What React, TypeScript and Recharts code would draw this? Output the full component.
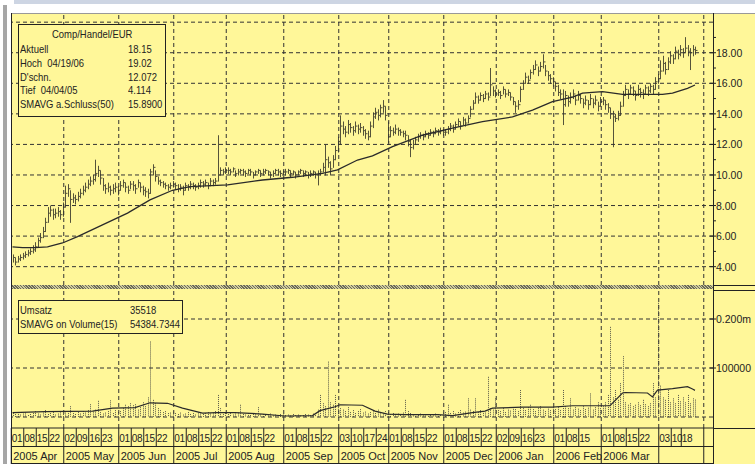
import { ComposedChart, Bar, Line, XAxis, YAxis, ReferenceLine } from 'recharts'

const YELLOW = '#FFF799'
const INK = '#222'
const FONT = '"Liberation Sans", Arial, sans-serif'

// trading-day index where each month starts (last one = 2006 May, outside the data)
const monthStarts = [0, 21, 43, 65, 86, 109, 131, 151, 173, 194, 217, 236, 259, 277]
const monthLabels = ['2005 Apr', '2005 May', '2005 Jun', '2005 Jul', '2005 Aug', '2005 Sep', '2005 Oct', '2005 Nov', '2005 Dec', '2006 Jan', '2006 Feb', '2006 Mar', '', '']

const weekIdx = [0, 5, 10, 15, 21, 26, 31, 36, 43, 48, 53, 58, 65, 70, 75, 80, 86, 91, 96, 101, 109, 114, 119, 124, 131, 136, 141, 146, 151, 156, 161, 166, 173, 178, 183, 188, 194, 199, 204, 209, 217, 222, 227, 236, 241, 246, 251, 259, 264, 268]
const weekLabels = ['01', '08', '15', '22', '02', '09', '16', '23', '01', '08', '15', '22', '01', '08', '15', '22', '01', '08', '15', '22', '01', '08', '15', '22', '03', '10', '17', '24', '01', '08', '15', '22', '01', '08', '15', '22', '02', '09', '16', '23', '01', '08', '15', '01', '08', '15', '22', '03', '10', '18']

const closes = [
  4.6, 4.3, 4.5, 4.6, 4.7, 4.8, 4.9, 5.0, 5.1, 5.3, 5.7, 5.9, 6.3, 6.9, 7.5, 7.7, 7.4, 7.5, 7.6, 7.4, 7.9,
  8.8, 9.1, 8.4, 8.5, 8.4, 8.6, 8.8, 9.0, 9.2, 9.4, 9.6, 9.7, 10.1, 10.3, 9.8, 9.3, 9.1, 9.2, 9.0, 9.1, 9.2, 9.0,
  9.3, 9.5, 9.2, 9.0, 9.4, 9.3, 9.1, 9.5, 9.2, 9.0, 8.9, 8.8, 10.2, 10.5, 9.9, 9.6, 9.5, 9.4, 9.3, 9.2, 9.3, 9.4,
  9.3, 9.1, 9.2, 9.0, 9.3, 9.2, 9.4, 9.3, 9.2, 9.3, 9.5, 9.4, 9.5, 9.3, 9.6, 9.5, 9.6, 10.0, 10.3, 10.2, 10.3,
  10.3, 10.2, 10.4, 10.1, 10.2, 10.3, 10.2, 10.1, 10.3, 10.2, 10.0, 10.2, 10.3, 10.1, 10.2, 10.3, 10.2, 10.0, 10.1, 10.3, 10.2, 10.1, 10.2,
  10.2, 10.3, 10.1, 10.2, 10.0, 10.2, 10.3, 10.1, 10.2, 10.0, 10.1, 10.2, 10.0, 10.1, 10.2, 10.5, 11.0, 10.8, 10.4, 11.0, 11.6, 12.2,
  13.2, 13.0, 12.8, 13.3, 13.1, 12.9, 13.2, 13.0, 13.1, 12.9, 12.7, 12.5, 13.2, 13.8, 14.1, 13.9, 14.4, 14.5, 13.9, 12.5,
  12.9, 12.8, 13.0, 12.9, 12.8, 12.7, 12.6, 12.2, 11.8, 12.0, 12.3, 12.5, 12.6, 12.5, 12.7, 12.6, 12.8, 12.7, 12.9, 12.8, 12.9, 12.8,
  12.8, 13.0, 13.2, 13.0, 13.3, 13.5, 13.2, 13.6, 13.4, 13.7, 14.3, 14.7, 15.1, 14.9, 15.2, 15.0, 15.3, 15.1, 15.9, 15.5, 15.3,
  15.4, 15.2, 15.6, 15.3, 15.4, 15.1, 14.8, 14.5, 14.6, 15.6, 16.0, 16.4, 16.2, 16.7, 16.9, 17.2, 16.8, 17.1, 17.4, 16.8, 16.5, 16.3, 16.1,
  15.8, 15.4, 15.3, 14.6, 15.2, 14.8, 15.1, 15.3, 14.9, 15.2, 15.0, 14.7, 14.9, 14.6, 15.0, 14.7, 14.9, 14.5, 14.8,
  14.9, 14.6, 14.4, 14.0, 13.8, 13.7, 13.9, 14.5, 15.2, 15.6, 15.3, 15.7, 15.5, 15.2, 15.6, 15.4, 15.3, 15.7, 15.5, 15.8, 15.6, 16.1, 16.3,
  16.8, 17.3, 16.9, 17.4, 17.8, 17.6, 18.1, 17.9, 18.2, 18.0, 18.3, 18.1, 18.0, 18.2, 18.15,
]

const highs = [
  4.8, 4.6, 4.7, 4.8, 4.9, 5.0, 5.1, 5.2, 5.4, 5.6, 5.9, 6.2, 6.6, 7.2, 7.9, 8.0, 7.8, 7.8, 7.9, 7.7, 8.2,
  9.3, 9.4, 9.0, 8.8, 8.7, 8.9, 9.1, 9.3, 9.5, 9.7, 9.9, 10.0, 11.0, 10.6, 10.3, 9.8, 9.4, 9.5, 9.3, 9.4, 9.5, 9.3,
  9.6, 9.7, 9.5, 9.3, 9.6, 9.6, 9.4, 9.7, 9.5, 9.3, 9.2, 9.1, 10.4, 10.7, 10.3, 9.9, 9.7, 9.6, 9.5, 9.4, 9.5, 9.6,
  9.5, 9.4, 9.4, 9.3, 9.5, 9.4, 9.6, 9.5, 9.4, 9.5, 9.7, 9.6, 9.7, 9.5, 9.8, 9.7, 9.8, 12.6, 10.5, 10.4, 10.5,
  10.5, 10.4, 10.5, 10.3, 10.4, 10.4, 10.4, 10.3, 10.4, 10.4, 10.2, 10.3, 10.4, 10.3, 10.4, 10.4, 10.3, 10.2, 10.3, 10.4, 10.4, 10.3, 10.3,
  10.4, 10.4, 10.3, 10.3, 10.2, 10.3, 10.4, 10.3, 10.3, 10.2, 10.3, 10.3, 10.2, 10.3, 10.4, 10.8, 12.0, 11.2, 10.9, 11.3, 11.9, 12.5,
  13.9, 13.5, 13.2, 13.6, 13.4, 13.2, 13.5, 13.3, 13.4, 13.2, 13.0, 12.9, 13.5, 14.1, 14.4, 14.3, 14.6, 14.9, 14.5, 13.5,
  13.2, 13.1, 13.3, 13.1, 13.0, 12.9, 12.9, 12.6, 12.3, 12.3, 12.5, 12.7, 12.8, 12.7, 12.9, 12.8, 13.0, 12.9, 13.1, 13.0, 13.1, 13.0,
  13.0, 13.2, 13.4, 13.3, 13.5, 13.7, 13.5, 13.8, 13.7, 13.9, 14.5, 14.9, 15.4, 15.2, 15.4, 15.3, 15.5, 15.4, 17.0, 15.8, 15.6,
  15.6, 15.5, 15.8, 15.6, 15.6, 15.4, 15.1, 14.8, 14.9, 15.8, 16.2, 16.7, 16.5, 16.9, 17.2, 17.5, 17.1, 17.4, 17.9, 17.2, 16.8, 16.6, 16.4,
  16.1, 15.9, 15.6, 15.6, 15.5, 15.2, 15.4, 15.6, 15.2, 15.5, 15.3, 15.0, 15.2, 14.9, 15.3, 15.0, 15.2, 14.8, 15.1,
  15.1, 14.9, 14.7, 14.4, 14.2, 14.0, 14.2, 14.8, 15.5, 15.9, 15.6, 15.9, 15.8, 15.5, 15.9, 15.7, 15.6, 15.9, 15.8, 16.0, 15.9, 16.4, 16.6,
  17.5, 17.8, 17.4, 17.7, 18.1, 17.9, 18.4, 18.2, 18.5, 18.3, 19.02, 18.5, 18.3, 18.5, 18.4,
]

const lows = [
  4.3, 4.114, 4.3, 4.4, 4.5, 4.6, 4.7, 4.8, 4.9, 5.0, 5.3, 5.6, 5.9, 6.3, 6.9, 7.3, 7.1, 7.2, 7.3, 7.1, 7.3,
  7.9, 8.6, 6.9, 8.2, 8.1, 8.3, 8.5, 8.7, 8.9, 9.1, 9.3, 9.4, 9.6, 9.9, 9.4, 9.0, 8.8, 8.9, 8.7, 8.8, 8.9, 8.7,
  9.0, 9.2, 8.9, 8.8, 9.1, 9.0, 8.8, 9.2, 8.9, 8.7, 8.6, 8.5, 8.8, 10.0, 9.6, 9.4, 9.3, 9.2, 9.1, 9.0, 9.1, 9.2,
  9.1, 8.9, 9.0, 8.7, 9.0, 9.0, 9.1, 9.1, 9.0, 9.1, 9.2, 9.2, 9.3, 9.1, 9.3, 9.3, 9.4, 9.6, 10.0, 10.0, 10.1,
  10.1, 10.0, 10.2, 9.9, 10.0, 10.1, 10.0, 9.9, 10.1, 10.0, 9.8, 10.0, 10.1, 9.9, 10.0, 10.1, 10.0, 9.8, 9.9, 10.1, 10.0, 9.9, 10.0,
  10.0, 10.1, 9.9, 10.0, 9.8, 10.0, 10.1, 9.9, 10.0, 9.8, 9.9, 10.0, 9.8, 9.35, 10.0, 10.2, 10.0, 10.5, 10.0, 10.5, 11.0, 11.5,
  12.0, 12.7, 12.5, 12.7, 12.8, 12.6, 12.8, 12.7, 12.8, 12.6, 12.4, 12.3, 12.5, 13.1, 13.7, 13.6, 13.8, 14.1, 13.6, 12.1,
  12.5, 12.6, 12.7, 12.6, 12.6, 12.5, 12.3, 11.9, 11.2, 11.7, 12.0, 12.2, 12.4, 12.3, 12.5, 12.4, 12.6, 12.5, 12.7, 12.6, 12.7, 12.6,
  12.6, 12.7, 12.9, 12.8, 13.0, 13.2, 13.0, 13.3, 13.2, 13.4, 13.8, 14.3, 14.7, 14.7, 14.9, 14.8, 15.0, 14.9, 15.2, 15.2, 15.1,
  15.2, 15.0, 15.3, 15.1, 15.2, 14.9, 14.6, 14.1, 14.3, 14.8, 15.6, 16.0, 16.0, 16.3, 16.6, 16.9, 16.5, 16.8, 17.0, 16.5, 16.2, 16.0, 15.8,
  15.5, 15.2, 15.0, 13.3, 14.5, 14.5, 14.7, 15.0, 14.6, 14.9, 14.7, 14.4, 14.6, 14.3, 14.6, 14.4, 14.6, 14.2, 14.5,
  14.6, 14.3, 14.1, 13.7, 11.85, 13.5, 13.6, 13.9, 14.5, 15.2, 15.0, 15.3, 15.2, 14.9, 15.2, 15.1, 15.0, 15.3, 15.2, 15.4, 15.3, 15.6, 16.0,
  16.3, 16.8, 16.6, 16.9, 17.3, 17.3, 17.6, 17.6, 17.8, 17.7, 18.0, 17.8, 16.9, 17.8, 17.9,
]

// SMAVG a.Schluss(50)
const smaIdx = [0, 4, 9, 14, 20, 26, 36, 46, 55, 64, 71, 86, 100, 112, 124, 130, 138, 144, 152, 164, 176, 188, 200, 208, 216, 224, 228, 236, 244, 260, 264, 270, 273]
const smaVal = [5.3, 5.25, 5.25, 5.3, 5.55, 5.97, 6.73, 7.5, 8.37, 9.0, 9.24, 9.35, 9.67, 9.85, 10.11, 10.33, 10.98, 11.25, 11.85, 12.6, 13.07, 13.49, 13.8, 14.25, 14.8, 15.1, 15.35, 15.45, 15.28, 15.28, 15.35, 15.67, 15.89]

// Umsatz in thousands
const volumeK = [
  8, 6, 10, 5, 7, 9, 4, 6, 8, 12, 7, 5, 9, 14, 6, 8, 10, 5, 7, 11, 6,
  9, 12, 22, 8, 6, 10, 7, 12, 9, 14, 26, 11, 15, 33, 10, 7, 9, 12, 34, 8, 14, 10,
  12, 18, 25, 22, 28, 24, 26, 15, 20, 30, 22, 40, 154, 35, 28, 18, 14, 10, 12, 8, 9, 11,
  8, 6, 9, 5, 7, 10, 6, 8, 5, 9, 7, 6, 8, 10, 7, 9, 12, 45, 18, 10, 8,
  6, 8, 5, 7, 9, 25, 6, 5, 8, 4, 6, 7, 20, 5, 6, 4, 5, 7, 3, 5, 4, 6, 5,
  4, 5, 3, 6, 4, 5, 3, 4, 6, 5, 4, 7, 8, 15, 45, 28, 22, 113, 30, 25, 45, 20,
  18, 15, 12, 20, 10, 14, 8, 12, 16, 9, 11, 7, 10, 13, 8, 15, 9, 7, 12, 10,
  6, 8, 5, 7, 4, 9, 35, 12, 8, 5, 6, 4, 7, 5, 3, 6, 4, 5, 7, 6, 4, 9,
  10, 25, 8, 12, 7, 10, 14, 9, 11, 38, 15, 12, 38, 10, 14, 12, 9, 82, 18, 15, 38,
  14, 12, 18, 10, 15, 13, 20, 16, 12, 55, 18, 14, 20, 25, 16, 12, 18, 22, 15, 12, 17, 14, 20,
  16, 20, 14, 55, 22, 18, 38, 15, 20, 17, 14, 22, 16, 19, 48, 15, 20, 30, 18,
  22, 30, 45, 184, 40, 55, 35, 69, 124, 30, 25, 28, 22, 25, 30, 24, 35, 26, 22, 28, 69, 40, 233,
  64, 40, 35, 55, 30, 38, 28, 45, 32, 40, 30, 45, 28, 38, 35.518,
]

// SMAVG on Volume(15), thousands
const volSmaIdx = [0, 13, 32, 40, 49, 55, 62, 68, 76, 82, 89, 100, 109, 120, 123, 129, 131, 140, 145, 150, 157, 170, 176, 184, 189, 192, 204, 216, 224, 236, 239, 244, 245, 254, 256, 258, 264, 270, 272, 273]
const volSmaK = [9, 11, 12, 18, 19, 29, 28, 18, 8, 9, 9, 6, 2, 3, 13, 21, 25, 24, 12, 6, 5, 5, 3, 9, 12, 18, 20, 20, 23, 23, 23, 49, 50, 49, 41, 55, 58, 62, 57, 54.4]

const priceLabelTicks = [4, 6, 8, 10, 12, 14, 16, 18]
const priceMinorTicks = [5, 7, 9, 11, 13, 15, 17, 19]
const priceGrid = [4, 6, 8, 10, 12, 14, 16, 18, 20]
const volTicks = [100, 200]
const volTickLabels = ['100000', '0.200m']
const volGrid = [0, 100, 200]

const priceLegendLabels = ['Aktuell', 'Hoch  04/19/06', "D'schn.", 'Tief  04/04/05', 'SMAVG a.Schluss(50)']
const priceLegendValues = ['18.15', '19.02', '12.072', '4.114', '15.8900']
const volLegendLabels = ['Umsatz', 'SMAVG on Volume(15)']
const volLegendValues = ['35518', '54384.7344']

const bars = closes.map((c, i) => ({ i, hl: [lows[i], highs[i]], close: c, vol: volumeK[i] }))
const smaPts = smaIdx.map((i, k) => ({ i, v: smaVal[k] }))
const volSmaPts = volSmaIdx.map((i, k) => ({ i, v: volSmaK[k] }))
const dateTicks = Array.from(new Set([...monthStarts, ...weekIdx])).sort((a, b) => a - b).map((v) => v - 0.5)

const X_DOMAIN: [number, number] = [-0.6, 280.2]
const GRID = { stroke: '#333', strokeDasharray: '4 3', strokeWidth: 1 }

function OhlcShape(props: any) {
  const { x, y, width, height, payload } = props
  const cx = Math.round(x + width / 2) + 0.5
  const top = Math.min(y, y + height)
  const bot = Math.max(y, y + height)
  const [lo, hi] = payload.hl
  const yc = top + ((bot - top) * (hi - payload.close)) / (hi - lo || 1)
  return (
    <g stroke="#55533a" strokeWidth={1}>
      <line x1={cx} x2={cx} y1={top} y2={bot + 0.5} />
      <line x1={cx} x2={cx + 2} y1={yc} y2={yc} />
    </g>
  )
}

function VolShape(props: any) {
  const { x, y, width, height } = props
  const cx = Math.round(x + width / 2) + 0.5
  const top = Math.min(y, y + height)
  const bot = Math.max(y, y + height)
  return <line x1={cx} x2={cx} y1={top} y2={bot} stroke="#5a5a4a" strokeDasharray="1 1" />
}

function PriceTick(props: any) {
  const { x, y, payload } = props
  const v = payload.value
  const k = priceLabelTicks.indexOf(v)
  return (
    <g>
      <line x1={k >= 0 ? x - 3 : x} x2={x + 3} y1={y} y2={y} stroke={INK} />
      {k >= 0 && (
        <text x={x + 3} y={y + 4} fontSize={10.5} fill={INK} fontFamily={FONT}>
          {v.toFixed(2)}
        </text>
      )}
    </g>
  )
}

function VolTick(props: any) {
  const { x, y, payload } = props
  const k = volTicks.indexOf(payload.value)
  return (
    <g>
      <line x1={x - 3} x2={x + 3} y1={y} y2={y} stroke={INK} />
      <text x={x + 3} y={y + 4} fontSize={10.5} fill={INK} fontFamily={FONT}>
        {volTickLabels[k]}
      </text>
    </g>
  )
}

function DateTick(props: any) {
  const { x, y, payload } = props
  const idx = payload.value + 0.5
  const m = monthStarts.indexOf(idx)
  const w = weekIdx.indexOf(idx)
  return (
    <g fontFamily={FONT} fill={INK}>
      <line x1={x} x2={x} y1={y} y2={y + (m >= 0 ? 36 : 18)} stroke={INK} />
      {w >= 0 && (
        <text x={x + 0.5} y={y + 14} fontSize={10} letterSpacing={-0.4}>
          {weekLabels[w]}
        </text>
      )}
      {m >= 0 && monthLabels[m] && (
        <text x={x + 2} y={y + 32} fontSize={11}>
          {monthLabels[m]}
        </text>
      )}
    </g>
  )
}

const abs = (left: number, top: number, width: number, height: number, background: string): React.CSSProperties => ({
  position: 'absolute', left, top, width, height, background,
})

const txt: React.CSSProperties = {
  position: 'absolute', fontSize: 10.5, lineHeight: '14px', whiteSpace: 'pre', color: INK,
  transform: 'scaleX(0.9)', transformOrigin: 'left center',
}

export default function App() {
  return (
    <div style={{ position: 'absolute', left: 0, top: 0, width: 755, height: 464, background: YELLOW, overflow: 'hidden', fontFamily: FONT }}>
      <div style={abs(0, 0, 755, 13, '#fff')} />
      <div style={abs(14, 0, 741, 4, '#cdd5e3')} />
      <div style={abs(0, 0, 11, 464, '#fff')} />
      <div style={abs(3, 5, 4, 459, '#a6a6a6')} />
      <div style={abs(11, 13, 744, 1, '#999')} />
      <div style={{ ...abs(12, 285, 701, 4, ''), background: 'repeating-linear-gradient(45deg, #6a6a58 0 1px, #cfcb9c 1px 2px)' }} />
      <div style={abs(713, 285, 42, 1, INK)} />
      <div style={abs(713, 290, 42, 1, INK)} />
      <div style={abs(713, 428, 42, 1, INK)} />
      <div style={abs(11, 446, 702, 1, INK)} />
      <div style={abs(11, 463, 702, 1, INK)} />

      <div style={{ position: 'absolute', left: 0, top: 0 }}>
        <ComposedChart width={755} height={285} data={bars} margin={{ top: 13, right: 0, bottom: 0, left: 11 }}>
          <XAxis type="number" dataKey="i" domain={X_DOMAIN} allowDataOverflow hide />
          <YAxis
            orientation="right"
            width={42}
            type="number"
            domain={[2.8, 20.6]}
            allowDataOverflow
            ticks={[...priceLabelTicks, ...priceMinorTicks]}
            interval={0}
            axisLine={false}
            tickLine={false}
            tickSize={0}
            tickMargin={0}
            tick={(p: any) => <PriceTick {...p} />}
          />
          {priceGrid.map((v) => (
            <ReferenceLine key={'h' + v} y={v} {...GRID} />
          ))}
          {monthStarts.slice(1).map((m) => (
            <ReferenceLine key={'v' + m} x={m - 0.5} {...GRID} />
          ))}
          <Bar dataKey="hl" isAnimationActive={false} shape={(p: any) => <OhlcShape {...p} />} />
          <Line data={smaPts} dataKey="v" type="linear" stroke="#2a2a2a" strokeWidth={1.3} dot={false} isAnimationActive={false} />
        </ComposedChart>
      </div>

      <div style={{ position: 'absolute', left: 0, top: 285 }}>
        <ComposedChart width={755} height={179} data={bars} margin={{ top: 5, right: 0, bottom: 0, left: 11 }}>
          <XAxis
            type="number"
            dataKey="i"
            domain={X_DOMAIN}
            allowDataOverflow
            ticks={dateTicks}
            interval={0}
            height={36}
            axisLine={{ stroke: INK }}
            tickLine={false}
            tickSize={0}
            tickMargin={0}
            tick={(p: any) => <DateTick {...p} />}
          />
          <YAxis
            orientation="right"
            width={42}
            type="number"
            domain={[-22.45, 259.2]}
            allowDataOverflow
            ticks={volTicks}
            interval={0}
            axisLine={false}
            tickLine={false}
            tickSize={0}
            tickMargin={0}
            tick={(p: any) => <VolTick {...p} />}
          />
          {volGrid.map((v) => (
            <ReferenceLine key={'h' + v} y={v} {...GRID} />
          ))}
          {monthStarts.slice(1).map((m) => (
            <ReferenceLine key={'v' + m} x={m - 0.5} {...GRID} />
          ))}
          <Bar dataKey="vol" isAnimationActive={false} shape={(p: any) => <VolShape {...p} />} />
          <Line data={volSmaPts} dataKey="v" type="linear" stroke="#2a2a2a" strokeWidth={1.2} dot={false} isAnimationActive={false} />
        </ComposedChart>
      </div>

      <div style={abs(11, 13, 1, 451, INK)} />
      <div style={abs(713, 13, 1, 451, INK)} />

      {/* price legend */}
      <div style={{ ...abs(18, 24, 148, 93, YELLOW), border: `1px solid ${INK}`, boxSizing: 'border-box' }} />
      <div style={{ ...txt, left: 52, top: 27 }}>Comp/Handel/EUR</div>
      {priceLegendLabels.map((l, k) => (
        <div key={l} style={{ ...txt, left: 20, top: 42 + k * 13.8 }}>{l}</div>
      ))}
      {priceLegendValues.map((v, k) => (
        <div key={k} style={{ ...txt, left: 128, top: 42 + k * 13.8 }}>{v}</div>
      ))}

      {/* volume legend */}
      <div style={{ ...abs(18, 300, 165, 34, YELLOW), border: `1px solid ${INK}`, boxSizing: 'border-box' }} />
      {volLegendLabels.map((l, k) => (
        <div key={l} style={{ ...txt, left: 20, top: 303 + k * 14 }}>{l}</div>
      ))}
      {volLegendValues.map((v, k) => (
        <div key={k} style={{ ...txt, left: 130, top: 303 + k * 14 }}>{v}</div>
      ))}
    </div>
  )
}
